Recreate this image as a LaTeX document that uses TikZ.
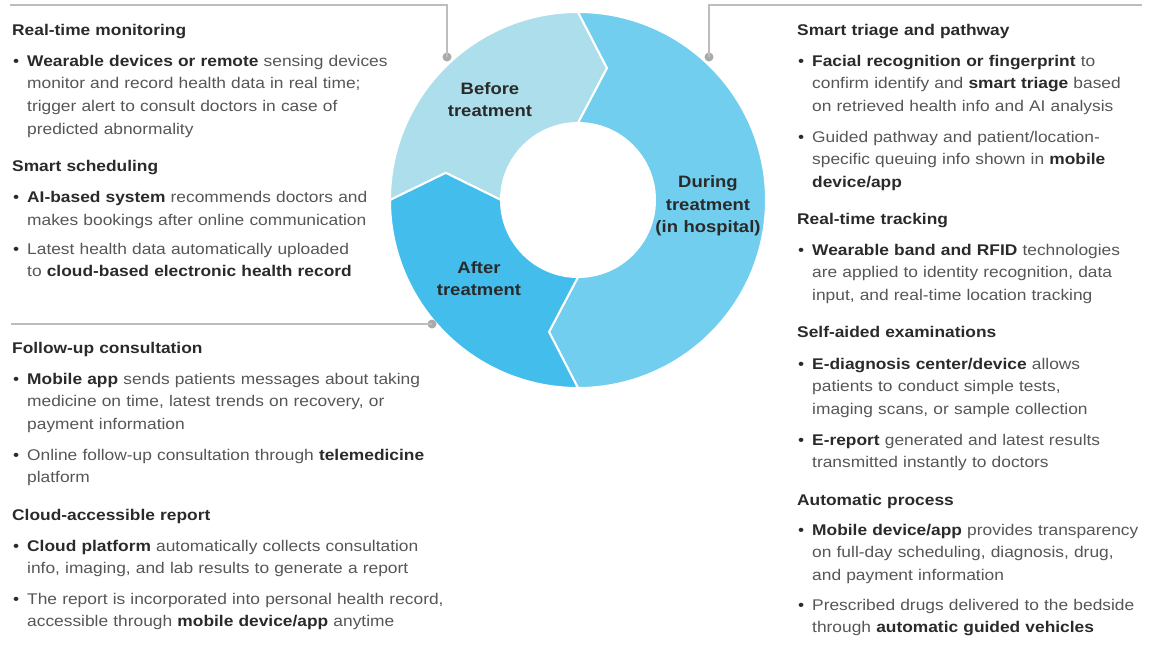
\documentclass[tikz,border=0pt]{standalone}
\usepackage{fontspec}
\setmainfont[FakeStretch=1.12]{Liberation Sans}
\usepackage{tikz}
\usetikzlibrary{positioning}
\usepackage{xcolor}

\definecolor{ink}{HTML}{2A2A2A}
\definecolor{body}{HTML}{565656}
\definecolor{leader}{HTML}{BDBDBD}
\definecolor{beforec}{HTML}{ADDEEB}
\definecolor{duringc}{HTML}{72CEEE}
\definecolor{afterc}{HTML}{43BDEC}

\newcommand{\keyterm}[1]{\textbf{\color{ink}#1}}
\newcommand{\bul}{\llap{{\color{ink}\textbullet}\hspace{8pt}}}

\begin{document}
\begin{tikzpicture}[x=1pt,y=-1pt]
      \tikzstyle{head} = [anchor=base west, inner sep=0pt, text width=500pt, align=left, text=ink, font=\fontsize{15.5}{22.7}\selectfont\bfseries]
      \tikzstyle{item} = [anchor=base west, inner sep=0pt, text width=500pt, align=left, text=body, font=\fontsize{15.5}{22.7}\selectfont]
      \tikzstyle{phase} = [anchor=base, inner sep=0pt, text width=130pt, align=center, text=ink, font=\fontsize{16.5}{22.4}\selectfont\bfseries]
      \tikzstyle{seg} = [draw=white, line width=2pt, line join=miter]
      \tikzstyle{lead} = [draw=leader, line width=1.4pt]
      \tikzstyle{dot} = [circle, fill=leader!90!black, inner sep=0pt, minimum size=9pt]

      \useasboundingbox (0,0) rectangle (1154,662);

      \begin{scope}[shift={(578,200)}, yscale=-1]
        \fill[seg, fill=beforec] (180:188) arc[start angle=180, end angle=90, radius=188] -- (77.6:135) -- (90:77) arc[start angle=90, end angle=180, radius=77] -- (168.4:135) -- cycle;
        \fill[seg, fill=duringc] (90:188) arc[start angle=90, end angle=-90, radius=188] -- (-102.4:135) -- (-90:77) arc[start angle=-90, end angle=90, radius=77] -- (77.6:135) -- cycle;
        \fill[seg, fill=afterc] (-90:188) arc[start angle=-90, end angle=-180, radius=188] -- (168.4:135) -- (180:77) arc[start angle=180, end angle=270, radius=77] -- (-102.4:135) -- cycle;
      \end{scope}

      \node[phase] (before) at (490,94.3) {Before\\treatment};
      \node[phase] (during) at (708,187.7) {During\\treatment\\(in hospital)};
      \node[phase] (after) at (479,273.3) {After\\treatment};

      \coordinate (monitor-end) at (10,5);
      \node[dot] (monitor-dot) at (447,57) {};
      \coordinate (triage-end) at (1142,5);
      \node[dot] (triage-dot) at (709,57) {};
      \coordinate (followup-end) at (11,324);
      \node[dot] (followup-dot) at (432,324) {};

      \draw[lead] (monitor-end) -| (monitor-dot.center);
      \draw[lead] (triage-end) -| (triage-dot.center);
      \draw[lead] (followup-end) -- (followup-dot.center);

      \node[head] (monitor) at (12,35) {Real-time monitoring};
      \node[item] (monitor-a) at (27,66) {\bul\keyterm{Wearable devices or remote} sensing devices\\monitor and record health data in real time;\\trigger alert to consult doctors in case of\\predicted abnormality};
      \node[head] (schedule) at (12,171) {Smart scheduling};
      \node[item] (schedule-a) at (27,202.3) {\bul\keyterm{AI-based system} recommends doctors and\\makes bookings after online communication};
      \node[item] (schedule-b) at (27,254) {\bul Latest health data automatically uploaded\\to \keyterm{cloud-based electronic health record}};

      \node[head] (followup) at (12,353) {Follow-up consultation};
      \node[item] (followup-a) at (27,384) {\bul\keyterm{Mobile app} sends patients messages about taking\\medicine on time, latest trends on recovery, or\\payment information};
      \node[item] (followup-b) at (27,460) {\bul Online follow-up consultation through \keyterm{telemedicine}\\platform};
      \node[head] (report) at (12,520) {Cloud-accessible report};
      \node[item] (report-a) at (27,551) {\bul\keyterm{Cloud platform} automatically collects consultation\\info, imaging, and lab results to generate a report};
      \node[item] (report-b) at (27,604) {\bul The report is incorporated into personal health record,\\accessible through \keyterm{mobile device/app} anytime};

      \node[head] (triage) at (797,35) {Smart triage and pathway};
      \node[item] (triage-a) at (812,66) {\bul\keyterm{Facial recognition or fingerprint} to\\confirm identify and \keyterm{smart triage} based\\on retrieved health info and AI analysis};
      \node[item] (triage-b) at (812,142) {\bul Guided pathway and patient/location-\\specific queuing info shown in \keyterm{mobile}\\\keyterm{device/app}};
      \node[head] (tracking) at (797,224) {Real-time tracking};
      \node[item] (tracking-a) at (812,255) {\bul\keyterm{Wearable band and RFID} technologies\\are applied to identity recognition, data\\input, and real-time location tracking};
      \node[head] (exam) at (797,337) {Self-aided examinations};
      \node[item] (exam-a) at (812,369) {\bul\keyterm{E-diagnosis center/device} allows\\patients to conduct simple tests,\\imaging scans, or sample collection};
      \node[item] (exam-b) at (812,445) {\bul\keyterm{E-report} generated and latest results\\transmitted instantly to doctors};
      \node[head] (process) at (797,505) {Automatic process};
      \node[item] (process-a) at (812,535) {\bul\keyterm{Mobile device/app} provides transparency\\on full-day scheduling, diagnosis, drug,\\and payment information};
      \node[item] (process-b) at (812,610) {\bul Prescribed drugs delivered to the bedside\\through \keyterm{automatic guided vehicles}};
    \end{tikzpicture}
\end{document}
